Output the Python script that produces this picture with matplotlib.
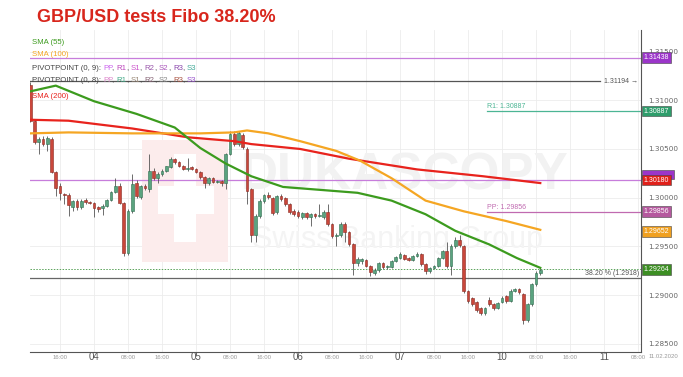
import numpy as np
import matplotlib.pyplot as plt
from matplotlib.patches import Rectangle
from matplotlib.transforms import blended_transform_factory

# hourly GBP/USD candles, hour 1 = 03 Feb 09:00 (weekend gap removed)
opens = [1.3116, 1.3079, 1.3057, 1.3060, 1.3055, 1.3060, 1.3026, 1.3012, 1.3004, 1.3003,
         1.2990, 1.2997, 1.2990, 1.2998, 1.2996, 1.2995, 1.2990, 1.2989, 1.2991, 1.2998,
         1.3006, 1.3012, 1.2995, 1.2943, 1.2986, 1.3015, 1.3001, 1.3012, 1.3009, 1.3027,
         1.3020, 1.3024, 1.3027, 1.3031, 1.3040, 1.3037, 1.3033, 1.3029, 1.3031, 1.3029,
         1.3026, 1.3021, 1.3015, 1.3020, 1.3016, 1.3017, 1.3015, 1.3045, 1.3065, 1.3055,
         1.3064, 1.3050, 1.3009, 1.2962, 1.2981, 1.2997, 1.3003, 1.3000, 1.2985, 1.3002,
         1.3000, 1.2994, 1.2986, 1.2985, 1.2980, 1.2984, 1.2980, 1.2983, 1.2981, 1.2980,
         1.2985, 1.2973, 1.2961, 1.2962, 1.2973, 1.2965, 1.2952, 1.2933, 1.2935, 1.2936,
         1.2930, 1.2923, 1.2926, 1.2933, 1.2929, 1.2929, 1.2935, 1.2938, 1.2941, 1.2938,
         1.2936, 1.2940, 1.2942, 1.2932, 1.2925, 1.2928, 1.2930, 1.2938, 1.2945, 1.2930,
         1.2950, 1.2957, 1.2950, 1.2904, 1.2897, 1.2893, 1.2887, 1.2882, 1.2895, 1.2891,
         1.2887, 1.2893, 1.2899, 1.2894, 1.2904, 1.2906, 1.2901, 1.2874, 1.2891, 1.2911,
         1.2923]
closes = [1.3079, 1.3057, 1.3060, 1.3055, 1.3061, 1.3026, 1.3010, 1.3005, 1.3003, 1.2992,
          1.2997, 1.2990, 1.2997, 1.2996, 1.2995, 1.2989, 1.2988, 1.2991, 1.2998, 1.3006,
          1.3012, 1.2995, 1.2943, 1.2986, 1.3014, 1.3002, 1.3012, 1.3010, 1.3027, 1.3020,
          1.3024, 1.3027, 1.3032, 1.3040, 1.3037, 1.3033, 1.3029, 1.3030, 1.3029, 1.3026,
          1.3021, 1.3015, 1.3020, 1.3016, 1.3017, 1.3015, 1.3045, 1.3065, 1.3055, 1.3066,
          1.3052, 1.3007, 1.2962, 1.2981, 1.2997, 1.3003, 1.3001, 1.2984, 1.3002, 1.2999,
          1.2993, 1.2985, 1.2983, 1.2981, 1.2984, 1.2980, 1.2983, 1.2981, 1.2982, 1.2985,
          1.2973, 1.2961, 1.2962, 1.2973, 1.2965, 1.2952, 1.2933, 1.2937, 1.2937, 1.2930,
          1.2924, 1.2926, 1.2933, 1.2929, 1.2930, 1.2935, 1.2939, 1.2942, 1.2937, 1.2936,
          1.2940, 1.2942, 1.2932, 1.2925, 1.2928, 1.2930, 1.2938, 1.2945, 1.2930, 1.2950,
          1.2957, 1.2951, 1.2904, 1.2894, 1.2891, 1.2885, 1.2882, 1.2887, 1.2891, 1.2887,
          1.2892, 1.2897, 1.2894, 1.2904, 1.2906, 1.2903, 1.2874, 1.2891, 1.2911, 1.2923,
          1.2926]
highs = [1.3119, 1.3080, 1.3062, 1.3063, 1.3063, 1.3062, 1.3027, 1.3015, 1.3005, 1.3005,
         1.2998, 1.2999, 1.2999, 1.3000, 1.2997, 1.2996, 1.2991, 1.2993, 1.2999, 1.3007,
         1.3020, 1.3015, 1.2996, 1.2988, 1.3024, 1.3018, 1.3013, 1.3014, 1.3045, 1.3030,
         1.3026, 1.3029, 1.3033, 1.3042, 1.3041, 1.3038, 1.3034, 1.3041, 1.3032, 1.3030,
         1.3027, 1.3022, 1.3021, 1.3021, 1.3018, 1.3018, 1.3046, 1.3068, 1.3068, 1.3068,
         1.3066, 1.3052, 1.3010, 1.2983, 1.2999, 1.3004, 1.3006, 1.3001, 1.3003, 1.3004,
         1.3001, 1.2995, 1.2988, 1.2987, 1.2985, 1.2985, 1.2984, 1.2984, 1.2993, 1.2987,
         1.2993, 1.2974, 1.2964, 1.2975, 1.2975, 1.2966, 1.2953, 1.2939, 1.2938, 1.2937,
         1.2931, 1.2928, 1.2934, 1.2934, 1.2931, 1.2936, 1.2940, 1.2944, 1.2942, 1.2939,
         1.2941, 1.2944, 1.2943, 1.2933, 1.2929, 1.2931, 1.2939, 1.2946, 1.2955, 1.2952,
         1.2960, 1.2962, 1.2951, 1.2905, 1.2898, 1.2894, 1.2888, 1.2888, 1.2898, 1.2892,
         1.2893, 1.2899, 1.2900, 1.2906, 1.2907, 1.2907, 1.2902, 1.2892, 1.2912, 1.2925,
         1.2928]
lows = [1.3078, 1.3055, 1.3045, 1.3053, 1.3048, 1.3025, 1.3002, 1.2998, 1.2993, 1.2981,
        1.2986, 1.2987, 1.2988, 1.2994, 1.2993, 1.2980, 1.2985, 1.2982, 1.2990, 1.2997,
        1.3005, 1.2993, 1.2940, 1.2941, 1.2984, 1.3000, 1.2999, 1.3008, 1.3006, 1.3018,
        1.3015, 1.3022, 1.3026, 1.3030, 1.3035, 1.3031, 1.3028, 1.3027, 1.3028, 1.3025,
        1.3019, 1.3010, 1.3013, 1.3015, 1.3015, 1.3012, 1.3009, 1.3044, 1.3053, 1.3053,
        1.3050, 1.2993, 1.2954, 1.2955, 1.2979, 1.2995, 1.2999, 1.2982, 1.2983, 1.2997,
        1.2991, 1.2983, 1.2981, 1.2979, 1.2978, 1.2978, 1.2971, 1.2979, 1.2980, 1.2978,
        1.2971, 1.2959, 1.2950, 1.2960, 1.2955, 1.2950, 1.2921, 1.2930, 1.2932, 1.2929,
        1.2920, 1.2921, 1.2924, 1.2927, 1.2927, 1.2928, 1.2934, 1.2937, 1.2936, 1.2935,
        1.2935, 1.2939, 1.2930, 1.2922, 1.2923, 1.2927, 1.2929, 1.2937, 1.2928, 1.2921,
        1.2948, 1.2949, 1.2902, 1.2892, 1.2889, 1.2883, 1.2880, 1.2880, 1.2889, 1.2885,
        1.2886, 1.2892, 1.2892, 1.2893, 1.2903, 1.2901, 1.2870, 1.2872, 1.2889, 1.2909,
        1.2921]

# moving averages (hour, price)
sma55_h = [0.9, 7, 16, 26, 35, 41, 47, 53, 60.5, 78, 86, 94, 101, 109, 115.5, 121]
sma55_v = [1.3109, 1.3115, 1.3099, 1.3086, 1.3072, 1.3051, 1.3035, 1.3022, 1.3011,
           1.3005, 1.2997, 1.2983, 1.2966, 1.2952, 1.2938, 1.2928]
sma100_h = [0.9, 10, 25, 41, 49, 52, 57, 64.5, 73, 78.6, 86, 94, 103, 113, 121]
sma100_v = [1.3066, 1.3067, 1.3066, 1.3066, 1.3067, 1.3069, 1.3066, 1.3058, 1.3048,
            1.3038, 1.3020, 1.2997, 1.2986, 1.2976, 1.2967]
sma200_h = [0.9, 10, 25, 38, 49, 53, 64.5, 76, 92, 107.5, 121]
sma200_v = [1.3080, 1.3079, 1.3071, 1.3062, 1.3058, 1.3055, 1.3050, 1.3040, 1.3029,
            1.3022, 1.3015]

# levels
pivot_top = 1.31438
pivot_mid = 1.30180
level_open = 1.31194
r1 = 1.30887
pp = 1.29856
fibo = 1.2918
last_price = 1.29264
sma100_last = 1.29652

tick_hours = list(range(8, 145, 8))
tick_labels = ["16:00", "04", "08:00", "16:00", "05", "08:00", "16:00", "06", "08:00",
               "16:00", "07", "08:00", "16:00", "10", "08:00", "16:00", "11", "08:00"]
day_labels = {"04", "05", "06", "07", "10", "11"}

W, H = 683, 377
fig = plt.figure(figsize=(W / 100, H / 100), dpi=100)
ax = fig.add_axes([30 / W, 1 - 352 / H, 611 / W, 322 / H])
ax.set_xlim(0.94, 144.7)
ax.set_ylim(1.28416, 1.31721)

FONT = "Liberation Sans"

# grid
for h in tick_hours:
    ax.axvline(h, color="#ececec", lw=0.6, zorder=0)
for p in np.arange(1.285, 1.3151, 0.005):
    ax.axhline(p, color="#ececec", lw=0.6, zorder=0)

# watermark
ax_tr = ax.transAxes
def px_ax(x, y):
    return (x - 30) / 611, (352 - y) / 322
x0, y0 = px_ax(142, 262)
ax.add_patch(Rectangle((x0, y0), 86 / 611, 122 / 322, transform=ax_tr, fc="#fcecec", ec="none", zorder=0.5))
x0, y0 = px_ax(158, 214)
ax.add_patch(Rectangle((x0, y0), 56 / 611, 28 / 322, transform=ax_tr, fc="white", ec="none", zorder=0.6))
x0, y0 = px_ax(174, 242)
ax.add_patch(Rectangle((x0, y0), 22 / 611, 88 / 322, transform=ax_tr, fc="white", ec="none", zorder=0.6))
xa, ya = px_ax(405, 176)
ax.text(xa, ya, "DUKASCOPY", transform=ax_tr, ha="center", va="center", fontsize=37,
        fontweight="bold", family=FONT, color="#f2f2f2", zorder=0.5)
xa, ya = px_ax(398, 240)
ax.text(xa, ya, "Swiss Banking Group", transform=ax_tr, ha="center", va="center", fontsize=22,
        family=FONT, color="#f4f4f4", zorder=0.5)

# candles
x = np.arange(1, len(opens) + 1)
o = np.array(opens)
c = np.array(closes)
up = c >= o
ax.vlines(x, lows, highs, color="#555555", lw=0.6, zorder=2)
ax.bar(x[up], (c - o)[up], bottom=o[up], width=0.68, color="#5aa37f", edgecolor="#2f6e50",
       linewidth=0.4, zorder=3)
ax.bar(x[~up], (c - o)[~up], bottom=o[~up], width=0.68, color="#c9473b", edgecolor="#8a2a22",
       linewidth=0.4, zorder=3)

# levels
ax.axhline(pivot_top, color="#c77ddb", lw=0.9, zorder=1)
ax.axhline(pivot_mid, color="#c77ddb", lw=0.9, zorder=1)
ax.plot([0.94, 135], [level_open, level_open], color="#555555", lw=0.9, zorder=1)
ax.plot([108.5, 144.7], [r1, r1], color="#4cb594", lw=0.9, zorder=1)
ax.plot([108.5, 144.7], [pp, pp], color="#c06ab0", lw=0.9, zorder=1)
ax.axhline(last_price, color="#5aa35a", lw=0.7, ls=(0, (1.5, 1.5)), zorder=1)
ax.axhline(fibo, color="#666666", lw=0.9, zorder=1)

ax.text(108.5, r1 + 0.00008, "R1: 1.30887", color="#4cb594", fontsize=5, family=FONT, va="bottom")
ax.text(108.5, pp + 0.00008, "PP: 1.29856", color="#c06ab0", fontsize=5, family=FONT, va="bottom")
ax.text(144.2, fibo + 0.0001, "38.20 % (1.2918)", color="#555555", fontsize=5, family=FONT,
        va="bottom", ha="right")
ax.text(136, level_open, "1.31194 \u2192", color="#555555", fontsize=5, family=FONT, va="center")

# moving averages
ax.plot(sma200_h, sma200_v, color="#e8231d", lw=1.6, zorder=4)
ax.plot(sma100_h, sma100_v, color="#f5a623", lw=1.6, zorder=4)
ax.plot(sma55_h, sma55_v, color="#3c9b1e", lw=1.6, zorder=4)

# axes look
for s in ["top", "left"]:
    ax.spines[s].set_visible(False)
ax.spines["bottom"].set_color("#555555")
ax.spines["right"].set_color("#555555")
ax.set_xticks([])
ax.yaxis.tick_right()
ax.set_yticks(np.arange(1.285, 1.3151, 0.005))
ax.set_yticklabels([f"{v:.5f}" for v in np.arange(1.285, 1.3151, 0.005)])
ax.tick_params(axis="y", length=0, pad=5, labelsize=5.2, labelcolor="#666666")

bt = blended_transform_factory(ax.transData, ax.transAxes)
for h, lab in zip(tick_hours, tick_labels):
    if lab in day_labels:
        ax.text(h, -0.016, lab, transform=bt, ha="center", va="center", fontsize=7,
                family=FONT, color="#555555", clip_on=False)
    else:
        ax.text(h, -0.016, lab, transform=bt, ha="center", va="center", fontsize=4.3,
                family=FONT, color="#999999", clip_on=False)
fig.text(663 / W, 1 - 357 / H, "11.02.2020", ha="center", va="center", fontsize=4.3,
         family=FONT, color="#999999")

# price boxes on the right axis
rt = blended_transform_factory(ax.transAxes, ax.transData)
# purple pivot box mostly hidden behind the red SMA box
ax.add_patch(Rectangle((1.002, 1.30195), 0.0515, 0.0009, transform=rt, fc="#9b35c9",
                       ec="#444444", lw=0.4, clip_on=False, zorder=5))
boxes = [(pivot_top, "1.31438", "#9b35c9"), (r1, "1.30887", "#2e9d6b"),
         (pivot_mid, "1.30180", "#e0201a"), (pp, "1.29856", "#b5589e"),
         (sma100_last, "1.29652", "#f0a020"), (last_price, "1.29264", "#3c8e23")]
for p, lab, col in boxes:
    ax.text(1.004, p, lab, transform=rt, ha="left", va="center", fontsize=5, family=FONT,
            color="white", clip_on=False, zorder=6,
            bbox=dict(boxstyle="square,pad=0.25", fc=col, ec="#444444", lw=0.4))

# legend texts
renderer = fig.canvas.get_renderer()
def width_px(s, size):
    t = fig.text(0, 0, s + ".", fontsize=size, family=FONT)
    d = fig.text(0, 0, ".", fontsize=size, family=FONT)
    w = t.get_window_extent(renderer).width - d.get_window_extent(renderer).width
    t.remove()
    d.remove()
    return w

def draw_parts(xp, yp, parts, size=5.6):
    prefix = ""
    for s, col in parts:
        fig.text((xp + width_px(prefix, size)) / W, 1 - yp / H, s, fontsize=size,
                 family=FONT, color=col, va="center")
        prefix += s

draw_parts(32, 42, [("SMA (55)", "#3c9b1e")])
draw_parts(32, 54, [("SMA (100)", "#f5a623")])
draw_parts(32, 69, [("PIVOTPOINT (0, 9): ", "#444444"), ("PP", "#cc66ee"), (", ", "#444444"),
                    ("R1", "#bb44bb"), (", ", "#444444"), ("S1", "#cc55cc"), (", ", "#444444"),
                    ("R2", "#9955aa"), (", ", "#444444"), ("S2", "#aa55bb"), (", ", "#444444"),
                    ("R3", "#8844aa"), (", ", "#444444"), ("S3", "#44aa99")])
draw_parts(32, 81, [("PIVOTPOINT (0, 8): ", "#444444"), ("PP", "#dd88cc"), (", ", "#444444"),
                    ("R1", "#44aa88"), (", ", "#444444"), ("S1", "#998877"), (", ", "#444444"),
                    ("R2", "#886677"), (", ", "#444444"), ("S2", "#888888"), (", ", "#444444"),
                    ("R3", "#aa5544"), (", ", "#444444"), ("S3", "#9955cc")])
draw_parts(32, 96, [("SMA (200)", "#e8231d")])

fig.text(37 / W, 1 - 17 / H, "GBP/USD tests Fibo 38.20%", fontsize=13, fontweight="bold",
         family=FONT, color="#d8261c", va="center")

fig.savefig("out.png", dpi=100)
